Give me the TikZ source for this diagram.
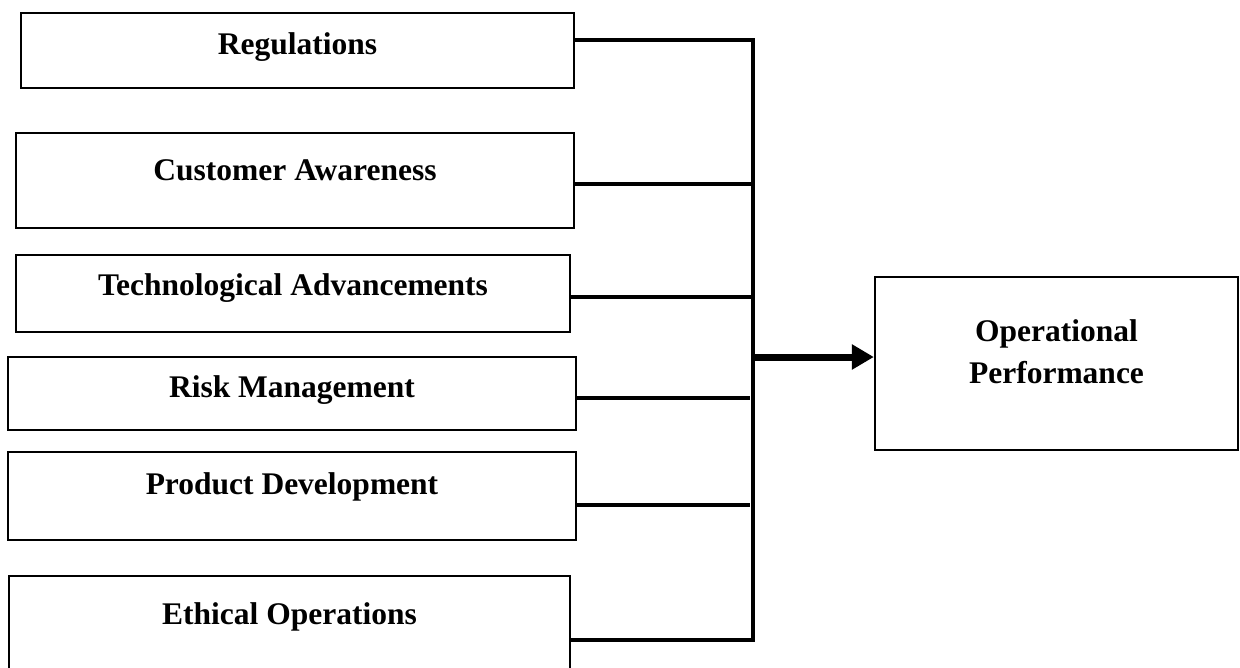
\documentclass[tikz,border=0pt]{standalone}
\usepackage{fontspec}
\setmainfont{Liberation Serif}
\usetikzlibrary{arrows.meta}
\begin{document}
\begin{tikzpicture}[x=1pt,y=-1pt,
  box/.style={draw, line width=2.3pt, inner sep=0pt},
  lbl/.style={font=\fontsize{31.5}{42}\selectfont\bfseries, inner sep=0pt, anchor=base},
  conn/.style={line width=3.3pt},
  bigarrow/.style={line width=7pt, -{Triangle[length=22pt,width=24pt]}}]
\clip (0,0) rectangle (1240,667);
% boxes
\node[box, minimum width=553pt, minimum height=75pt] (reg) at (297.5,50.5) {};
\node[box, minimum width=558pt, minimum height=95pt] (cust) at (295,180.5) {};
\node[box, minimum width=554pt, minimum height=77pt] (tech) at (293,293.5) {};
\node[box, minimum width=568pt, minimum height=73pt] (risk) at (292,393.5) {};
\node[box, minimum width=568pt, minimum height=88pt] (prod) at (292,496) {};
\node[box, minimum width=561pt, minimum height=124pt] (eth) at (289.5,638) {};
\node[box, minimum width=363pt, minimum height=173pt] (op) at (1056.5,363.5) {};
% labels
\node[lbl] (regt) at (297.5,54) {Regulations};
\node[lbl] (custt) at (295,180) {Customer Awareness};
\node[lbl] (techt) at (293,295) {Technological Advancements};
\node[lbl] (riskt) at (292,397) {Risk Management};
\node[lbl] (prodt) at (292,494) {Product Development};
\node[lbl] (etht) at (289.5,624) {Ethical Operations};
\node[font=\fontsize{31.5}{42}\selectfont\bfseries, inner sep=0pt, align=center] (opt) at (1056.5,352) {Operational\\Performance};
% junction points on the vertical bus
\coordinate (v1) at (753,40);
\coordinate (v2) at (753,184);
\coordinate (v3) at (753,297);
\coordinate (v4) at (750,398);
\coordinate (v5) at (750,505);
\coordinate (v6) at (753,640);
\coordinate (j) at (753,357);
% connectors
\draw[conn] (v1 -| reg.east) -- (v1) -- (v6) -- (v6 -| eth.east);
\draw[conn] (v2 -| cust.east) -- (v2);
\draw[conn] (v3 -| tech.east) -- (v3);
\draw[conn] (v4 -| risk.east) -- (v4);
\draw[conn] (v5 -| prod.east) -- (v5);
\draw[bigarrow] (j) -- (j -| op.west);
\end{tikzpicture}
\end{document}
